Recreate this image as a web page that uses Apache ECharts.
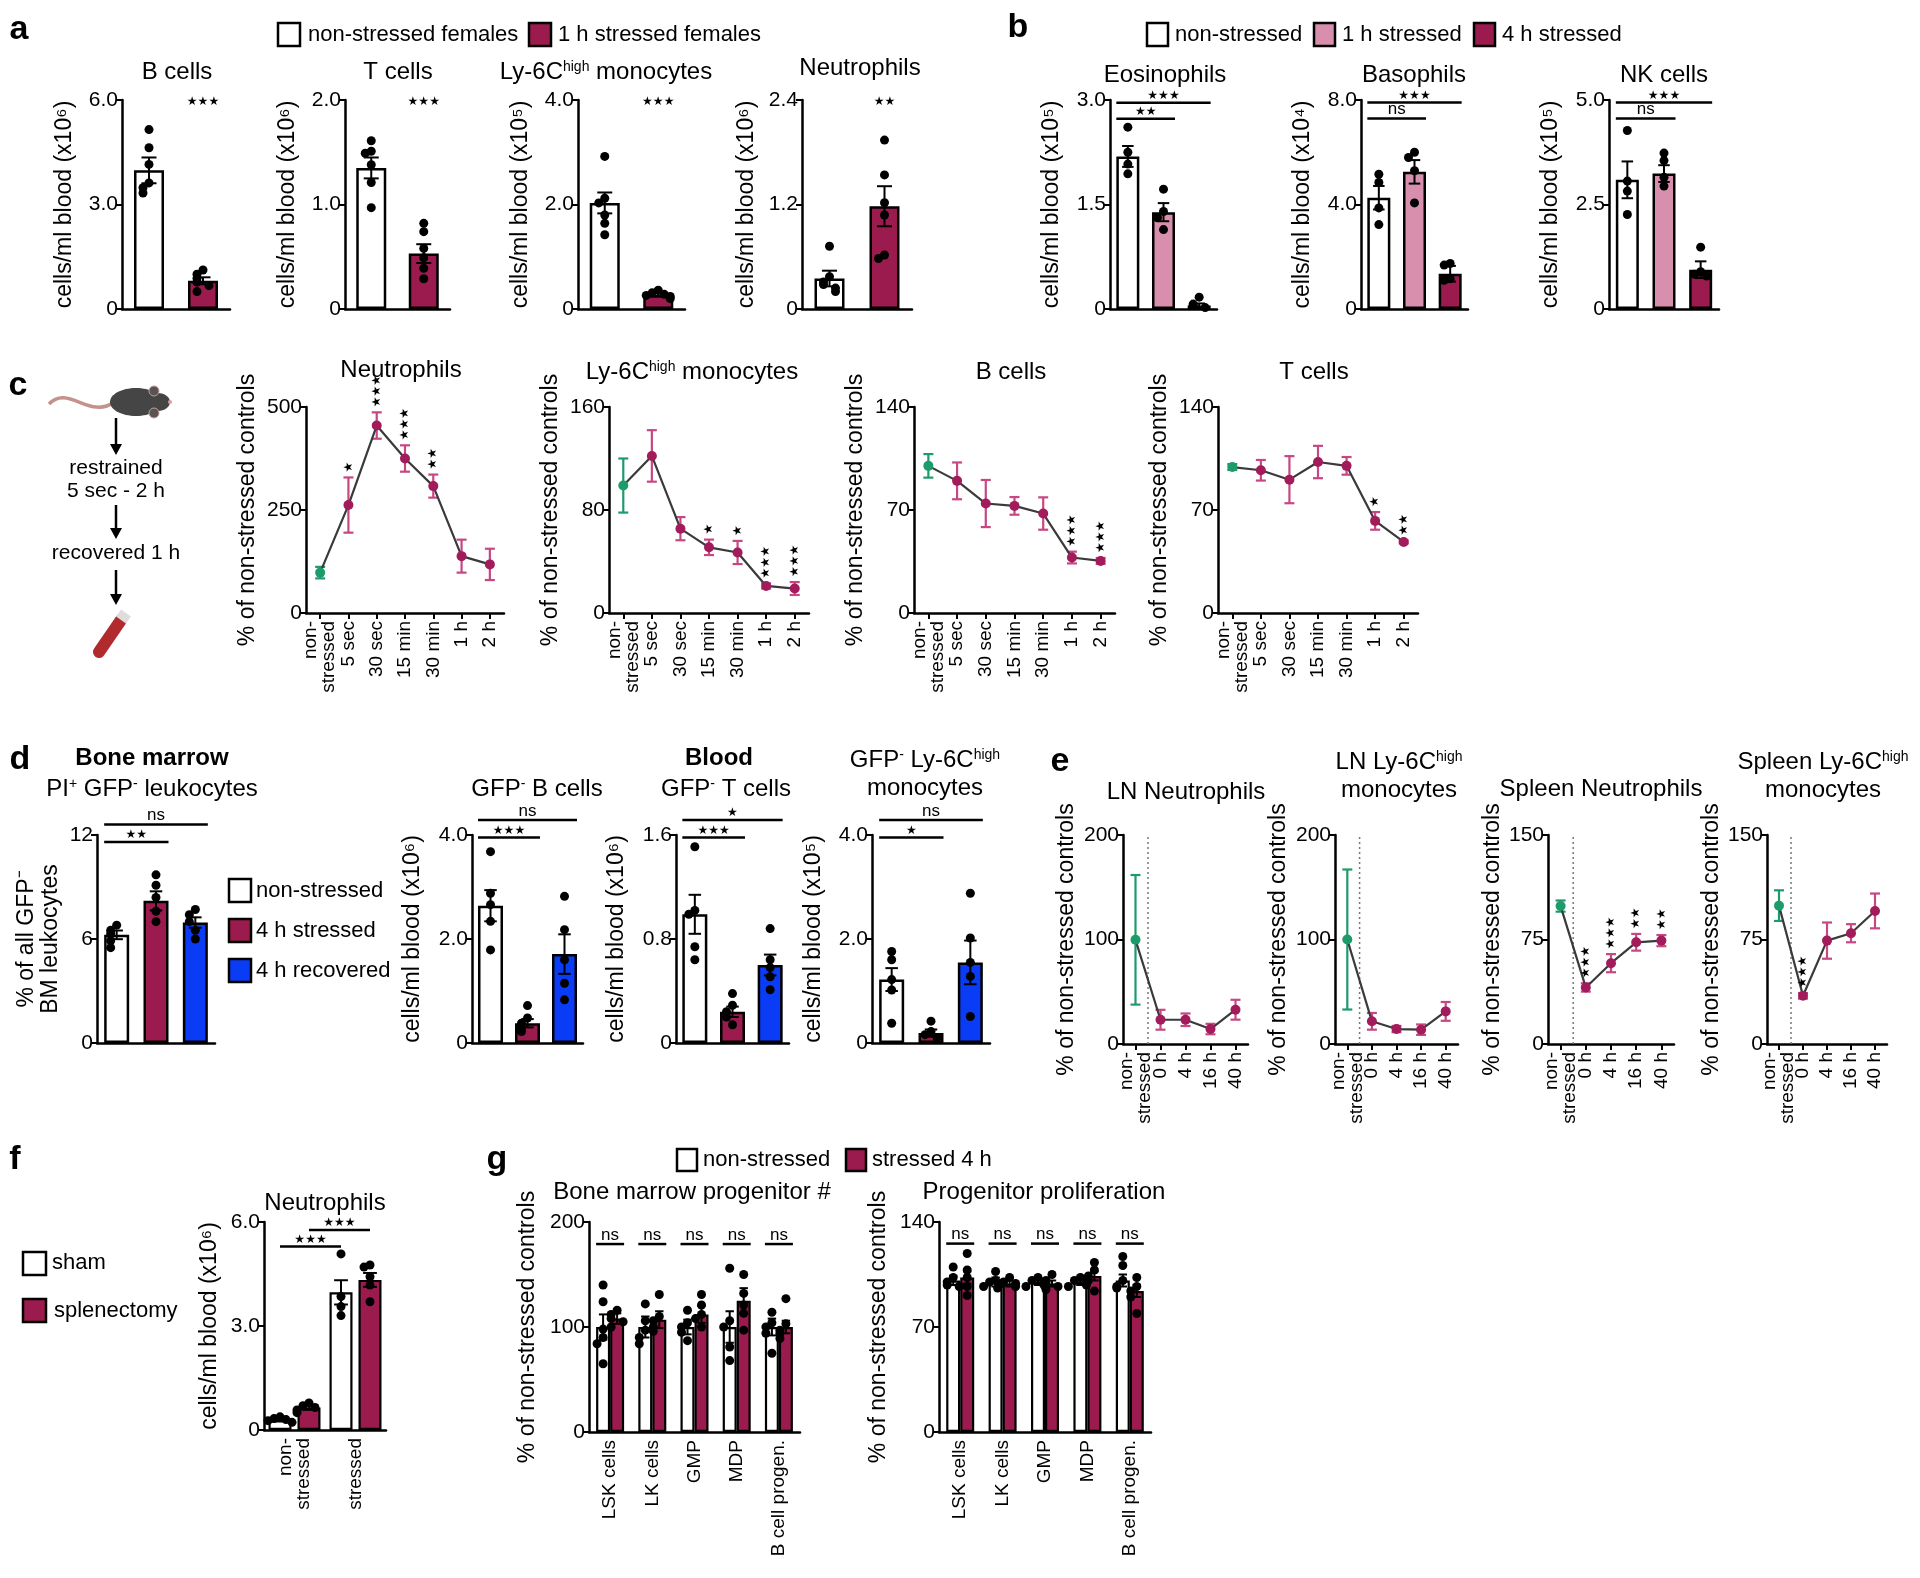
<!DOCTYPE html>
<html>
<head>
<meta charset="utf-8">
<script src="https://cdn.jsdelivr.net/npm/echarts@6/dist/echarts.min.js"></script>
<style>
html, body { margin: 0; background: #fff; }
#main { width: 1920px; height: 1578px; }
</style>
</head>
<body>
<div id="main"></div>
<script>
// ---------- panel a: blood counts, females ----------
var aBMean = [3.98, 0.81], aBSem = [0.37, 0.10];
var aBDots = [[5.15, 4.63, 4.15, 3.62, 3.48, 3.33], [1.12, 1.00, 0.88, 0.77, 0.67, 0.50]];
var aTMean = [1.35, 0.53], aTSem = [0.10, 0.09];
var aTDots = [[1.61, 1.51, 1.49, 1.38, 1.21, 0.97], [0.82, 0.74, 0.58, 0.49, 0.39, 0.29]];
var aMMean = [2.03, 0.27], aMSem = [0.20, 0.03];
var aMDots = [[2.92, 2.12, 2.03, 1.80, 1.64, 1.42], [0.36, 0.31, 0.28, 0.26, 0.24, 0.20]];
var aNMean = [0.35, 1.18], aNSem = [0.09, 0.23];
var aNDots = [[0.72, 0.37, 0.31, 0.28, 0.24, 0.20], [1.94, 1.54, 1.22, 1.08, 0.62, 0.58]];
var aSig = ['***', '***', '***', '**'];

// ---------- panel b ----------
var bEMean = [2.19, 1.39, 0.05], bESem = [0.15, 0.13, 0.03];
var bEDots = [[2.61, 2.25, 2.08, 1.94], [1.72, 1.40, 1.31, 1.14], [0.17, 0.07, 0.05, 0.02]];
var bEBr = [[0, 2, 2.96, '***'], [0, 1, 2.73, '**']];
var bBMean = [4.26, 5.25, 1.35], bBSem = [0.45, 0.45, 0.30];
var bBDots = [[5.16, 4.84, 3.87, 3.23], [6.00, 5.80, 5.29, 4.06], [1.74, 1.68, 1.16, 1.10]];
var bBBr = [[0, 2, 7.90, '***'], [0, 1, 7.29, 'ns']];
var bNMean = [3.09, 3.24, 0.94], bNSem = [0.44, 0.20, 0.20];
var bNDots = [[4.27, 3.06, 2.82, 2.26], [3.73, 3.55, 3.15, 2.94], [1.48, 0.89, 0.83, 0.79]];
var bNBr = [[0, 2, 4.94, '***'], [0, 1, 4.56, 'ns']];

// ---------- panel c: time course ----------
var cCats = ['non-\nstressed', '5 sec', '30 sec', '15 min', '30 min', '1 h', '2 h'];
var cNMean = [98, 262, 455, 375, 308, 138, 118], cNSem = [14, 67, 32, 32, 28, 40, 38];
var cNSig = ['', '*', '***', '***', '**', '', ''];
var cMMean = [99, 122, 65.5, 51, 47, 21, 19], cMSem = [21, 20, 9, 6, 9, 2, 5];
var cMSig = ['', '', '', '*', '*', '***', '***'];
var cBMean = [100, 89.8, 74.4, 72.8, 67.6, 37.7, 35.4], cBSem = [8, 12.5, 16, 6, 11, 4, 2];
var cBSig = ['', '', '', '', '', '***', '***'];
var cTMean = [99.2, 97, 90.6, 102.6, 100, 62.6, 48.3], cTSem = [2, 7, 16, 11, 6, 6, 1];
var cTSig = ['', '', '', '', '', '*', '**'];

// ---------- panel d ----------
var dBMMean = [6.24, 8.2, 6.95], dBMSem = [0.25, 0.55, 0.3];
var dBMDots = [[6.8, 6.5, 6.3, 5.9, 5.5], [9.7, 9.1, 8.4, 7.6, 7.0], [7.7, 7.4, 7.0, 6.5, 6.0]];
var dBMBr = [[0, 2, 12.6, 'ns'], [0, 1, 11.6, '**']];
var dBMean = [2.64, 0.38, 1.71], dBSem = [0.3, 0.08, 0.38];
var dBDots = [[3.68, 2.88, 2.66, 2.34, 1.79], [0.72, 0.48, 0.38, 0.29, 0.22], [2.82, 2.18, 1.6, 1.15, 0.83]];
var dBBr = [[0, 2, 4.29, 'ns'], [0, 1, 3.95, '***']];
var dTMean = [0.99, 0.24, 0.6], dTSem = [0.15, 0.04, 0.08];
var dTDots = [[1.51, 1.02, 0.99, 0.74, 0.64], [0.38, 0.29, 0.24, 0.2, 0.14], [0.88, 0.64, 0.58, 0.51, 0.41]];
var dTBr = [[0, 2, 1.715, '*'], [0, 1, 1.58, '***']];
var dMMean = [1.22, 0.19, 1.55], dMSem = [0.22, 0.07, 0.42];
var dMDots = [[1.76, 1.6, 1.22, 1.02, 0.38], [0.42, 0.22, 0.16, 0.1], [2.88, 2.02, 1.55, 1.28, 0.51]];
var dMBr = [[0, 2, 4.29, 'ns'], [0, 1, 3.95, '*']];

// ---------- panel e ----------
var eCats = ['non-\nstressed', '0 h', '4 h', '16 h', '40 h'];
var eLNMean = [99.7, 23.2, 23.2, 14.3, 32.8], eLNSem = [62, 9.5, 6, 5, 9.5];
var eLMMean = [100, 21.7, 14.3, 13.7, 31.2], eLMSem = [67, 8, 3, 5, 9];
var eSNMean = [99, 40.6, 58, 73, 74.2], eSNSem = [4, 3, 6.5, 6, 4];
var eSNSig = ['', '***', '***', '**', '**'];
var eSMMean = [99.3, 34.6, 74.2, 79.5, 95.5], eSMSem = [11, 2, 13, 6.5, 12.5];
var eSMSig = ['', '***', '', '', ''];
var eNoSig = ['', '', '', '', ''];

// ---------- panel f ----------
var fCats = ['non-\nstressed', 'stressed'];
var fShamMean = [0.29, 3.97], fShamSem = [0.04, 0.35];
var fSplMean = [0.65, 4.33], fSplSem = [0.07, 0.2];
var fShamDots = [[0.38, 0.33, 0.3, 0.27, 0.22], [5.08, 3.85, 3.56, 3.3]];
var fSplDots = [[0.78, 0.7, 0.65, 0.58, 0.5], [4.76, 4.7, 4.42, 4.18, 3.7]];

// ---------- panel g ----------
var gCats = ['LSK cells', 'LK cells', 'GMP', 'MDP', 'B cell progen.'];
var gBMCtrlMean = [100, 100, 100, 100, 100], gBMCtrlSem = [12, 10, 7, 15, 8];
var gBMStrMean = [108, 107, 112, 125, 100], gBMStrSem = [5, 8, 8, 12, 6];
var gBMCtrlDots = [[140, 124, 98, 90, 84, 65], [122, 106, 97, 90, 84], [116, 104, 100, 95, 87], [156, 106, 100, 81, 68], [114, 104, 100, 94, 75]];
var gBMStrDots = [[116, 112, 108, 105, 100], [131, 110, 106, 100, 96], [131, 121, 112, 108, 100], [150, 132, 121, 113, 97], [127, 103, 97, 94, 89]];
var gPCtrlMean = [101, 100, 100, 100, 101], gPCtrlSem = [3, 3, 2, 2, 4];
var gPStrMean = [103, 99, 99, 104, 94], gPStrSem = [4, 2, 2, 3, 4];
var gPCtrlDots = [[110, 103, 100, 98, 97], [107, 101, 100, 99, 97], [103, 101, 100, 98, 97], [103, 101, 100, 98, 97], [117, 111, 101, 97, 96]];
var gPStrDots = [[119, 108, 103, 97, 91], [103, 100, 99, 97, 96], [105, 101, 100, 97, 95], [113, 108, 104, 101, 94], [103, 97, 94, 90, 79]];
var gBMNs = 179, gPNs = 125.6;

// ---------- styling ----------
var FONT = "'Liberation Sans', Arial, Helvetica, sans-serif";
var STARFONT = "'DejaVu Sans', sans-serif";
var MAROON = '#9b1b4f', PINK = '#d88fae', BLUE = '#0b3cf5';
var GREEN = '#1e9b6b', PT = '#a21b5b', ERR = '#c64782', LINEC = '#3a3a3a';

var grids = [], xAxis = [], yAxis = [], series = [], graphic = [];

function addGrid(box, cats, yMax, dec, yName, gap, xLabels, xTicks) {
    var gi = grids.length;
    grids.push({left: box[0], top: box[1], width: box[2], height: box[3]});
    xAxis.push({
        gridIndex: gi, type: 'category', data: cats, boundaryGap: true,
        axisLine: {show: true, lineStyle: {color: '#000', width: 2.5}},
        axisTick: {show: xTicks, alignWithLabel: true, length: 6, lineStyle: {color: '#000', width: 2}},
        axisLabel: {show: xLabels, interval: 0, rotate: 90, margin: 8, color: '#000',
            fontFamily: FONT, fontSize: 19, lineHeight: 18},
        splitLine: {show: false}
    });
    yAxis.push({
        gridIndex: gi, type: 'value', min: 0, max: yMax, interval: yMax / 2,
        axisLine: {show: true, lineStyle: {color: '#000', width: 2.5}},
        axisTick: {show: true, length: 6, lineStyle: {color: '#000', width: 2}},
        axisLabel: {color: '#000', fontFamily: FONT, fontSize: 21, margin: 4,
            formatter: function (v) { return v === 0 ? '0' : v.toFixed(dec); }},
        splitLine: {show: false},
        name: yName, nameLocation: 'middle', nameGap: gap, nameRotate: 90,
        nameTextStyle: {color: '#000', fontFamily: FONT, fontSize: 23, lineHeight: 24}
    });
    return gi;
}

function errorBars(gi, items, cap, lw, z) {
    series.push({
        type: 'custom', xAxisIndex: gi, yAxisIndex: gi, silent: true, z: z, clip: false,
        data: items.map(function (d) { return [d[0], d[1]]; }),
        renderItem: function (params, api) {
            var it = items[params.dataIndex];
            var hi = api.coord([it[0], it[1] + it[2]]);
            var lo = api.coord([it[0], it[1] - it[2]]);
            var x = hi[0] + it[3];
            var st = {stroke: it[4], lineWidth: lw};
            return {type: 'group', children: [
                {type: 'line', shape: {x1: x, y1: hi[1], x2: x, y2: lo[1]}, style: st},
                {type: 'line', shape: {x1: x - cap / 2, y1: hi[1], x2: x + cap / 2, y2: hi[1]}, style: st},
                {type: 'line', shape: {x1: x - cap / 2, y1: lo[1], x2: x + cap / 2, y2: lo[1]}, style: st}
            ]};
        }
    });
}

function jitter(vals, yMax) {
    var pattern = [0, -1, 1, -2, 2, -3, 3];
    return vals.map(function (v, i) {
        var k = 0;
        for (var j = 0; j < i; j++) if (Math.abs(vals[j] - v) < yMax * 0.035) k++;
        return pattern[k % pattern.length] * 6;
    });
}

function dotMarks(gi, groups, yMax) {
    var pts = [];
    groups.forEach(function (g) {
        var js = jitter(g.vals, yMax);
        g.vals.forEach(function (v, i) { pts.push([g.cat, v, g.dx + js[i]]); });
    });
    series.push({
        type: 'custom', xAxisIndex: gi, yAxisIndex: gi, silent: true, z: 6, clip: false,
        data: pts.map(function (p) { return [p[0], p[1]]; }),
        renderItem: function (params, api) {
            var p = pts[params.dataIndex];
            var c = api.coord([p[0], p[1]]);
            return {type: 'circle', shape: {cx: c[0] + p[2], cy: c[1], r: 4.5}, style: {fill: '#000'}};
        }
    });
}

function textStyle(text, size, align, valign, weight) {
    return {legacy: false, text: text, fill: '#000', fontFamily: FONT, fontSize: size,
        fontWeight: weight || 'normal', align: align, verticalAlign: valign,
        rich: {s: {fontSize: Math.round(size * 0.6), fontFamily: FONT, verticalAlign: 'top', fill: '#000'}}};
}

// significance marks: asterisks drawn as small filled stars
function sigStyle(label, align) {
    var star = label.indexOf('*') >= 0;
    if (!star) return textStyle(label, 17, align, 'middle');
    return {legacy: false, text: label.replace(/\*/g, '\u2605'), fill: '#000', fontFamily: STARFONT,
        fontSize: 12, align: align, verticalAlign: 'middle'};
}

// [c1, dx1, c2, dx2, y, label]
function brackets(gi, list, ext) {
    series.push({
        type: 'custom', xAxisIndex: gi, yAxisIndex: gi, silent: true, z: 6, clip: false,
        data: list.map(function (b) { return [b[0], b[4]]; }),
        renderItem: function (params, api) {
            var b = list[params.dataIndex];
            var p1 = api.coord([b[0], b[4]]), p2 = api.coord([b[2], b[4]]);
            var x1 = p1[0] + b[1] - ext, x2 = p2[0] + b[3] + ext;
            var star = b[5].indexOf('*') >= 0;
            return {type: 'group', children: [
                {type: 'line', shape: {x1: x1, y1: p1[1], x2: x2, y2: p1[1]}, style: {stroke: '#000', lineWidth: 2.5}},
                {type: 'text', x: (x1 + x2) / 2, y: p1[1] + (star ? -7 : -9), style: sigStyle(b[5], 'center')}
            ]};
        }
    });
}

// [cat, y, text, dx, dy, rotated]
function notes(gi, list) {
    series.push({
        type: 'custom', xAxisIndex: gi, yAxisIndex: gi, silent: true, z: 7, clip: false,
        data: list.map(function (n) { return [n[0], n[1]]; }),
        renderItem: function (params, api) {
            var n = list[params.dataIndex];
            var p = api.coord([n[0], n[1]]);
            return {type: 'text', x: p[0] + n[3], y: p[1] + n[4], rotation: n[5] ? Math.PI / 2 : 0,
                style: sigStyle(n[2], n[5] ? 'left' : 'center')};
        }
    });
}

function barPanel(box, mean, sem, dots, colors, yMax, dec, yName, gap, barW, br) {
    var cats = mean.map(function (_, i) { return 'g' + i; });
    var gi = addGrid(box, cats, yMax, dec, yName, gap, false, false);
    series.push({
        type: 'bar', xAxisIndex: gi, yAxisIndex: gi, silent: true, z: 2, barWidth: barW,
        data: mean.map(function (m, i) {
            return {value: m, itemStyle: {color: colors[i], borderColor: '#000', borderWidth: 2.5}};
        })
    });
    errorBars(gi, mean.map(function (m, i) { return [i, m, sem[i], 0, '#000']; }), barW * 0.5, 2, 5);
    dotMarks(gi, dots.map(function (v, i) { return {cat: i, dx: 0, vals: v}; }), yMax);
    if (br) brackets(gi, br.map(function (b) { return [b[0], 0, b[1], 0, b[2], b[3]]; }), barW / 2);
    return gi;
}

function linePanel(box, cats, mean, sem, sig, yMax, yName, gap, divider) {
    var gi = addGrid(box, cats, yMax, 0, yName, gap, true, true);
    if (divider) {
        series.push({
            type: 'custom', xAxisIndex: gi, yAxisIndex: gi, silent: true, z: 1, clip: false,
            data: [[0, 0]],
            renderItem: function (params, api) {
                var a = api.coord([0, 0]), b = api.coord([1, 0]), t = api.coord([0, yMax]);
                var x = (a[0] + b[0]) / 2;
                return {type: 'line', shape: {x1: x, y1: a[1], x2: x, y2: t[1]},
                    style: {stroke: '#777', lineWidth: 1.5, lineDash: [2, 3]}};
            }
        });
    }
    errorBars(gi, mean.map(function (m, i) { return [i, m, sem[i], 0, i === 0 ? GREEN : ERR]; }), 10, 2.2, 3);
    series.push({
        type: 'line', xAxisIndex: gi, yAxisIndex: gi, silent: true, z: 4,
        symbol: 'circle', symbolSize: 10, lineStyle: {color: LINEC, width: 2.2},
        data: mean.map(function (m, i) { return {value: m, itemStyle: {color: i === 0 ? GREEN : PT}}; })
    });
    var st = [];
    sig.forEach(function (s, i) { if (s) st.push([i, mean[i] + sem[i], s, 0, -5, true]); });
    notes(gi, st);
    return gi;
}

function groupedBars(box, cats, means, sems, dots, colors, yMax, dec, yName, gap, barW, barGap, xLabelsOn) {
    var gi = addGrid(box, cats, yMax, dec, yName, gap, xLabelsOn, false);
    var half = barW * (1 + barGap) / 2;
    var errs = [], dg = [];
    means.forEach(function (arr, s) {
        series.push({
            type: 'bar', xAxisIndex: gi, yAxisIndex: gi, silent: true, z: 2, barWidth: barW,
            barGap: Math.round(barGap * 100) + '%', data: arr,
            itemStyle: {color: colors[s], borderColor: '#000', borderWidth: 2.2}
        });
        var dx = s === 0 ? -half : half;
        arr.forEach(function (m, i) {
            errs.push([i, m, sems[s][i], dx, '#000']);
            dg.push({cat: i, dx: dx, vals: dots[s][i]});
        });
    });
    errorBars(gi, errs, barW * 0.6, 2, 5);
    dotMarks(gi, dg, yMax);
    return {gi: gi, half: half};
}

// ---------- build panels ----------
var AY6 = 'cells/ml blood (x10\u2076)', AY5 = 'cells/ml blood (x10\u2075)', AY4 = 'cells/ml blood (x10\u2074)';
var PCT = '% of non-stressed controls';

var g;
g = barPanel([122, 100, 108, 209], aBMean, aBSem, aBDots, ['#fff', MAROON], 6, 1, AY6, 45, 30);
notes(g, [[1, 6, aSig[0], 0, 2, false]]);
g = barPanel([345, 100, 105, 209], aTMean, aTSem, aTDots, ['#fff', MAROON], 2, 1, AY6, 45, 30);
notes(g, [[1, 2, aSig[1], 0, 2, false]]);
g = barPanel([578, 100, 107, 209], aMMean, aMSem, aMDots, ['#fff', MAROON], 4, 1, AY5, 45, 30);
notes(g, [[1, 4, aSig[2], 0, 2, false]]);
g = barPanel([802, 100, 110, 209], aNMean, aNSem, aNDots, ['#fff', MAROON], 2.4, 1, AY6, 43, 30);
notes(g, [[1, 2.4, aSig[3], 0, 2, false]]);

barPanel([1110, 100, 107, 209], bEMean, bESem, bEDots, ['#fff', PINK, MAROON], 3, 1, AY5, 46, 23, bEBr);
barPanel([1361, 100, 107, 209], bBMean, bBSem, bBDots, ['#fff', PINK, MAROON], 8, 1, AY4, 46, 23, bBBr);
barPanel([1609, 100, 110, 209], bNMean, bNSem, bNDots, ['#fff', PINK, MAROON], 5, 1, AY5, 46, 23, bNBr);

linePanel([306, 407, 198, 206], cCats, cNMean, cNSem, cNSig, 500, PCT, 46);
linePanel([609, 407, 200, 206], cCats, cMMean, cMSem, cMSig, 160, PCT, 46);
linePanel([914, 407, 201, 206], cCats, cBMean, cBSem, cBSig, 140, PCT, 46);
linePanel([1218, 407, 200, 206], cCats, cTMean, cTSem, cTSig, 140, PCT, 46);

barPanel([97, 835, 118, 208], dBMMean, dBMSem, dBMDots, ['#fff', MAROON, BLUE], 12, 0,
    '% of all GFP\u207B\nBM leukocytes', 34, 25, dBMBr);
barPanel([472, 835, 111, 208], dBMean, dBSem, dBDots, ['#fff', MAROON, BLUE], 4, 1, AY6, 47, 25, dBBr);
barPanel([676, 835, 113, 208], dTMean, dTSem, dTDots, ['#fff', MAROON, BLUE], 1.6, 1, AY6, 47, 25, dTBr);
barPanel([872, 835, 118, 208], dMMean, dMSem, dMDots, ['#fff', MAROON, BLUE], 4, 1, AY5, 46, 25, dMBr);

linePanel([1123, 835, 125, 209], eCats, eLNMean, eLNSem, eNoSig, 200, PCT, 44, true);
linePanel([1335, 835, 123, 209], eCats, eLMMean, eLMSem, eNoSig, 200, PCT, 44, true);
linePanel([1548, 835, 126, 209], eCats, eSNMean, eSNSem, eSNSig, 150, PCT, 42, true);
linePanel([1767, 835, 120, 209], eCats, eSMMean, eSMSem, eSMSig, 150, PCT, 42, true);

var f = groupedBars([264, 1222, 122, 208], fCats, [fShamMean, fSplMean], [fShamSem, fSplSem],
    [fShamDots, fSplDots], ['#fff', MAROON], 6, 1, AY6, 42, 23, 0.26, true);
brackets(f.gi, [[0, -f.half, 1, -f.half, 5.29, '***'], [0, f.half, 1, f.half, 5.77, '***']], 0);

var gb = groupedBars([589, 1222, 211, 210], gCats, [gBMCtrlMean, gBMStrMean], [gBMCtrlSem, gBMStrSem],
    [gBMCtrlDots, gBMStrDots], ['#fff', MAROON], 200, 0, PCT, 49, 14, 0, true);
brackets(gb.gi, gCats.map(function (_, i) { return [i, -gb.half, i, gb.half, gBMNs, 'ns']; }), 7);
var gp = groupedBars([939, 1222, 212, 210], gCats, [gPCtrlMean, gPStrMean], [gPCtrlSem, gPStrSem],
    [gPCtrlDots, gPStrDots], ['#fff', MAROON], 140, 0, PCT, 48, 14, 0, true);
brackets(gp.gi, gCats.map(function (_, i) { return [i, -gp.half, i, gp.half, gPNs, 'ns']; }), 7);

// ---------- titles, legends, letters ----------
function txt(x, y, text, size, opts) {
    opts = opts || {};
    graphic.push({type: 'text', x: x, y: y, z: 10,
        style: textStyle(text, size, opts.align || 'center', 'middle', opts.bold ? 'bold' : 'normal')});
}
function box(x, y, w, h, fill) {
    graphic.push({type: 'rect', shape: {x: x, y: y, width: w, height: h}, z: 10,
        style: {fill: fill, stroke: '#000', lineWidth: 2.5}});
}
function arrow(x, y1, y2) {
    graphic.push({type: 'line', shape: {x1: x, y1: y1, x2: x, y2: y2 - 8}, style: {stroke: '#000', lineWidth: 2.5}});
    graphic.push({type: 'polygon', shape: {points: [[x - 6, y2 - 11], [x + 6, y2 - 11], [x, y2]]}, style: {fill: '#000'}});
}

txt(19, 30, 'a', 34, {bold: true});
txt(1018, 28, 'b', 34, {bold: true});
txt(18, 386, 'c', 34, {bold: true});
txt(20, 760, 'd', 34, {bold: true});
txt(1060, 762, 'e', 34, {bold: true});
txt(15, 1160, 'f', 34, {bold: true});
txt(497, 1160, 'g', 34, {bold: true});

box(278, 23, 22, 23, '#fff'); txt(308, 35, 'non-stressed females', 22, {align: 'left'});
box(529, 23, 22, 23, MAROON); txt(558, 35, '1 h stressed females', 22, {align: 'left'});
txt(177, 72, 'B cells', 24);
txt(398, 72, 'T cells', 24);
txt(606, 72, 'Ly-6C{s|high} monocytes', 24);
txt(860, 68, 'Neutrophils', 24);

box(1147, 23, 21, 23, '#fff'); txt(1175, 35, 'non-stressed', 22, {align: 'left'});
box(1314, 23, 21, 23, PINK); txt(1342, 35, '1 h stressed', 22, {align: 'left'});
box(1474, 23, 21, 23, MAROON); txt(1502, 35, '4 h stressed', 22, {align: 'left'});
txt(1165, 75, 'Eosinophils', 24);
txt(1414, 75, 'Basophils', 24);
txt(1664, 75, 'NK cells', 24);

txt(401, 370, 'Neutrophils', 24);
txt(692, 372, 'Ly-6C{s|high} monocytes', 24);
txt(1011, 372, 'B cells', 24);
txt(1314, 372, 'T cells', 24);

// mouse sketch
graphic.push({type: 'bezierCurve', shape: {x1: 49, y1: 404, cpx1: 68, cpy1: 384, cpx2: 90, cpy2: 420, x2: 114, y2: 402},
    style: {stroke: '#c4928a', lineWidth: 3.5, fill: null}});
graphic.push({type: 'ellipse', shape: {cx: 136, cy: 402, rx: 26, ry: 14}, style: {fill: '#454545'}});
graphic.push({type: 'ellipse', shape: {cx: 158, cy: 402, rx: 12, ry: 9}, style: {fill: '#454545'}});
graphic.push({type: 'circle', shape: {cx: 154, cy: 391, r: 5}, style: {fill: '#555', stroke: '#c99', lineWidth: 1}});
graphic.push({type: 'circle', shape: {cx: 154, cy: 413, r: 5}, style: {fill: '#555', stroke: '#c99', lineWidth: 1}});
graphic.push({type: 'circle', shape: {cx: 170, cy: 402, r: 2}, style: {fill: '#d9a0a0'}});
arrow(116, 418, 455);
txt(116, 468, 'restrained', 21);
txt(116, 491, '5 sec - 2 h', 21);
arrow(116, 505, 539);
txt(116, 553, 'recovered 1 h', 21);
arrow(116, 570, 605);
graphic.push({type: 'line', shape: {x1: 121, y1: 620, x2: 99, y2: 652}, style: {stroke: '#b02a2e', lineWidth: 12, lineCap: 'round'}});
graphic.push({type: 'line', shape: {x1: 126, y1: 613, x2: 121, y2: 620}, style: {stroke: '#ddd', lineWidth: 12}});

txt(152, 758, 'Bone marrow', 24, {bold: true});
txt(152, 789, 'PI{s|+} GFP{s|-} leukocytes', 24);
box(229, 879, 22, 23, '#fff'); txt(256, 891, 'non-stressed', 22, {align: 'left'});
box(229, 919, 22, 23, MAROON); txt(256, 931, '4 h stressed', 22, {align: 'left'});
box(229, 959, 22, 23, BLUE); txt(256, 971, '4 h recovered', 22, {align: 'left'});
txt(537, 789, 'GFP{s|-} B cells', 24);
txt(719, 758, 'Blood', 24, {bold: true});
txt(726, 789, 'GFP{s|-} T cells', 24);
txt(925, 760, 'GFP{s|-} Ly-6C{s|high}', 24);
txt(925, 788, 'monocytes', 24);

txt(1186, 792, 'LN Neutrophils', 24);
txt(1399, 762, 'LN Ly-6C{s|high}', 24);
txt(1399, 790, 'monocytes', 24);
txt(1601, 789, 'Spleen Neutrophils', 24);
txt(1823, 762, 'Spleen Ly-6C{s|high}', 24);
txt(1823, 790, 'monocytes', 24);

box(23, 1252, 23, 23, '#fff'); txt(52, 1263, 'sham', 22, {align: 'left'});
box(23, 1299, 23, 23, MAROON); txt(54, 1311, 'splenectomy', 22, {align: 'left'});
txt(325, 1203, 'Neutrophils', 24);

box(677, 1149, 20, 22, '#fff'); txt(703, 1160, 'non-stressed', 22, {align: 'left'});
box(846, 1149, 20, 22, MAROON); txt(872, 1160, 'stressed 4 h', 22, {align: 'left'});
txt(692, 1192, 'Bone marrow progenitor #', 24);
txt(1044, 1192, 'Progenitor proliferation', 24);

var chart = echarts.init(document.getElementById('main'));
chart.setOption({
    animation: false,
    backgroundColor: '#fff',
    grid: grids,
    xAxis: xAxis,
    yAxis: yAxis,
    series: series,
    graphic: graphic
});
</script>
</body>
</html>
